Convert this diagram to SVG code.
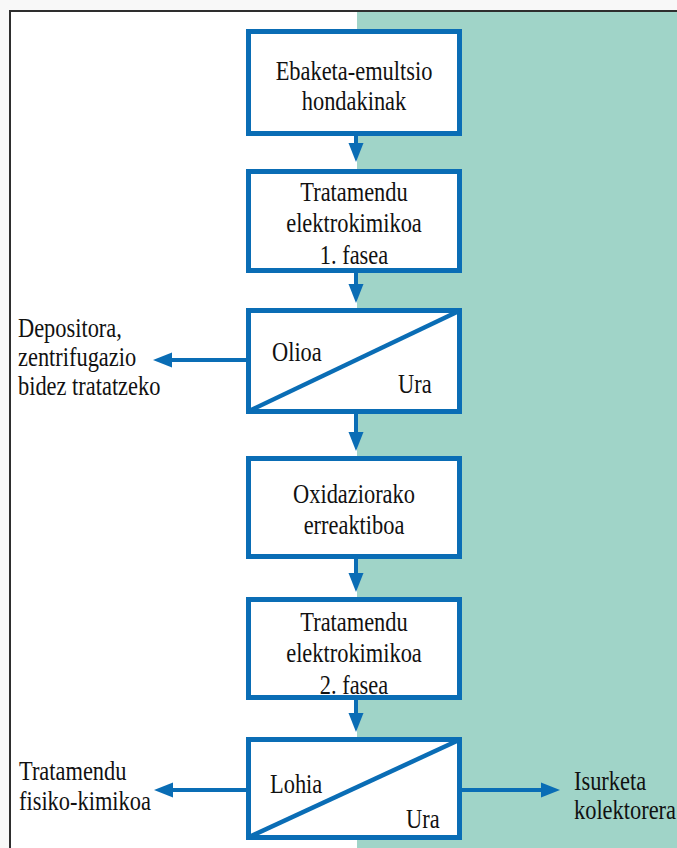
<svg xmlns="http://www.w3.org/2000/svg" width="677" height="848" viewBox="0 0 677 848" font-family="Liberation Serif, Times New Roman, serif">
<style>
.box{fill:#fff;stroke:#0a6db5;stroke-width:5}
.diag{stroke:#0a6db5;stroke-width:4.5}
.con{stroke:#0a6db5;stroke-width:4;fill:none}
.t{font-family:'Liberation Serif','Times New Roman',serif;font-size:27px;fill:#111}
.c{text-anchor:middle}
</style>
<defs>
<marker id="ah" markerUnits="userSpaceOnUse" markerWidth="20" markerHeight="16" refX="0" refY="7.5" orient="auto" viewBox="0 0 20 15">
<path d="M0,0 L19,7.5 L0,15 z" fill="#0a6db5"/>
</marker>
</defs>
<rect x="0" y="0" width="677" height="848" fill="#f8f8f8"/>
<rect x="10" y="11" width="700" height="900" fill="#fff" stroke="#2e2e2e" stroke-width="2"/>
<rect x="357" y="12" width="330" height="846" fill="#a0d4c8"/>

<g id="connectors">
<line class="con" x1="356" y1="136" x2="356" y2="143" marker-end="url(#ah)"/>
<line class="con" x1="356" y1="273" x2="356" y2="284" marker-end="url(#ah)"/>
<line class="con" x1="356" y1="414" x2="356" y2="432" marker-end="url(#ah)"/>
<line class="con" x1="356" y1="559" x2="356" y2="573" marker-end="url(#ah)"/>
<line class="con" x1="356" y1="700" x2="356" y2="713" marker-end="url(#ah)"/>
<line class="con" x1="247" y1="360" x2="172" y2="360" marker-end="url(#ah)"/>
<line class="con" x1="247" y1="790" x2="173" y2="790" marker-end="url(#ah)"/>
<line class="con" x1="461" y1="790" x2="541" y2="790" marker-end="url(#ah)"/>
</g>

<g id="n1">
<rect class="box" x="248.5" y="31.5" width="211" height="102"/>
<text class="t c" transform="translate(354 80) scale(0.83 1)">Ebaketa-emultsio</text>
<text class="t c" transform="translate(354 110) scale(0.83 1)">hondakinak</text>
</g>
<g id="n2">
<rect class="box" x="248.5" y="171.5" width="211" height="99"/>
<text class="t c" transform="translate(354 201) scale(0.83 1)">Tratamendu</text>
<text class="t c" transform="translate(354 232) scale(0.83 1)">elektrokimikoa</text>
<text class="t c" transform="translate(354 264) scale(0.83 1)">1. fasea</text>
</g>
<g id="n3">
<rect class="box" x="248.5" y="310.5" width="211" height="101"/>
<line class="diag" x1="249" y1="411" x2="459" y2="311"/>
<text class="t" transform="translate(272 361) scale(0.83 1)">Olioa</text>
<text class="t" transform="translate(398 393) scale(0.83 1)">Ura</text>
</g>
<g id="n4">
<rect class="box" x="248.5" y="458.5" width="211" height="98"/>
<text class="t c" transform="translate(354 503) scale(0.83 1)">Oxidaziorako</text>
<text class="t c" transform="translate(354 534) scale(0.83 1)">erreaktiboa</text>
</g>
<g id="n5">
<rect class="box" x="248.5" y="599.5" width="211" height="98"/>
<text class="t c" transform="translate(354 631) scale(0.83 1)">Tratamendu</text>
<text class="t c" transform="translate(354 662) scale(0.83 1)">elektrokimikoa</text>
<text class="t c" transform="translate(354 694) scale(0.83 1)">2. fasea</text>
</g>
<g id="n6">
<rect class="box" x="248.5" y="739.5" width="211" height="98"/>
<line class="diag" x1="249" y1="837" x2="459" y2="740"/>
<text class="t" transform="translate(270 793) scale(0.83 1)">Lohia</text>
<text class="t" transform="translate(406 828) scale(0.83 1)">Ura</text>
</g>
<g id="t-depositora">
<text class="t" transform="translate(18 337) scale(0.83 1)">Depositora,</text>
<text class="t" transform="translate(18 366) scale(0.83 1)">zentrifugazio</text>
<text class="t" transform="translate(18 395) scale(0.83 1)">bidez tratatzeko</text>
</g>
<g id="t-fisiko">
<text class="t" transform="translate(19 780) scale(0.83 1)">Tratamendu</text>
<text class="t" transform="translate(19 810) scale(0.83 1)">fisiko-kimikoa</text>
</g>
<g id="t-isurketa">
<text class="t" transform="translate(574 790) scale(0.83 1)">Isurketa</text>
<text class="t" transform="translate(574 819) scale(0.83 1)">kolektorera</text>
</g>
</svg>
